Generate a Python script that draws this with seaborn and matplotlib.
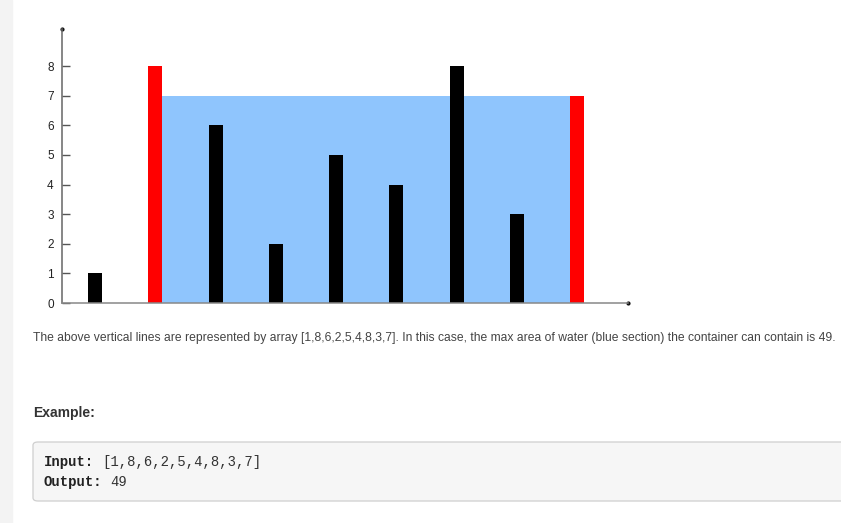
import matplotlib.pyplot as plt
import seaborn as sns
import pandas as pd
from matplotlib.patches import Rectangle, FancyBboxPatch

# data: heights of the vertical lines
heights = [1, 8, 6, 2, 5, 4, 8, 3, 7]
y_ticks = [0, 1, 2, 3, 4, 5, 6, 7, 8]
caption = ("The above vertical lines are represented by array [1,8,6,2,5,4,8,3,7]. "
           "In this case, the max area of water (blue section) the container can contain is 49.")
example_input = "[1,8,6,2,5,4,8,3,7]"
example_output = "49"

# find the container holding the most water
best = (0, 0, 0)
for i in range(len(heights)):
    for j in range(i + 1, len(heights)):
        area = (j - i) * min(heights[i], heights[j])
        if area > best[0]:
            best = (area, i, j)
area, left, right = best
level = min(heights[left], heights[right])

kinds = ['wall' if k in (left, right) else 'line' for k in range(len(heights))]
df = pd.DataFrame({'pos': range(len(heights)), 'height': heights, 'kind': kinds})

sns.set_style('white')
plt.rcParams['font.family'] = ['Liberation Sans', 'DejaVu Sans']

W, H = 841, 523
fig = plt.figure(figsize=(W / 100, H / 100), dpi=100)

# grey strip on the left of the page
fig.patches.append(Rectangle((0, 0), 12 / W, 1, transform=fig.transFigure,
                             color='#f3f3f3', zorder=0))

ax = fig.add_axes([62 / W, 1 - 303 / H, (628 - 62) / W, (303 - 29) / H])
ax.set_facecolor('none')

bar_w = 0.232
sns.barplot(data=df, x='pos', y='height', hue='kind',
            palette={'line': '#000000', 'wall': '#ff0000'}, saturation=1,
            width=bar_w, dodge=False, legend=False, linewidth=0,
            ax=ax, zorder=3)

# water between the two walls
ax.fill_between([left + bar_w / 2, right - bar_w / 2], 0, level,
                color='#8fc5fd', lw=0, zorder=1)

ax.set_xlim(-0.548, 8.846)
ax.set_ylim(0, 9.25)
ax.set_xticks([])
ax.set_yticks(y_ticks)
ax.set_xlabel('')
ax.set_ylabel('')
ax.tick_params(axis='y', direction='in', length=6, width=1, color='#555555',
               pad=6, labelsize=8.5, labelcolor='#222222', left=True)
for s in ['top', 'right']:
    ax.spines[s].set_visible(False)
ax.spines['left'].set_color('#666666')
ax.spines['bottom'].set_color('#888888')
ax.spines['left'].set_linewidth(1.1)
ax.spines['bottom'].set_linewidth(1.1)
ax.spines['left'].set_zorder(4)
ax.spines['bottom'].set_zorder(4)

# little dots at the axis ends
ax.plot([0], [1], marker='o', ms=2, color='#111111', transform=ax.transAxes, clip_on=False)
ax.plot([1], [0], marker='o', ms=2, color='#111111', transform=ax.transAxes, clip_on=False)

fig.text(33 / W, 1 - 338 / H, caption, fontsize=8.7, color='#444444', va='center')
fig.text(33 / W, 1 - 413 / H, 'Example:', fontsize=10, fontweight='bold',
         color='#333333', va='center')

# code box
box = FancyBboxPatch((33 / W, 1 - 501 / H), 830 / W, 59 / H,
                     boxstyle='round,pad=0,rounding_size=0.006',
                     transform=fig.transFigure, facecolor='#f6f6f6',
                     edgecolor='#cfcfcf', lw=0.9, zorder=1)
fig.patches.append(box)

mono = ['Liberation Mono', 'DejaVu Sans Mono']
fig.text(44 / W, 1 - 462 / H, 'Input:', family=mono, fontsize=10,
         fontweight='bold', color='#222222', va='center')
fig.text(44 / W + 7 * 8.3 / W, 1 - 462 / H, example_input, family=mono,
         fontsize=10, color='#333333', va='center')
fig.text(44 / W, 1 - 482 / H, 'Output:', family=mono, fontsize=10,
         fontweight='bold', color='#222222', va='center')
fig.text(44 / W + 8 * 8.3 / W, 1 - 482 / H, example_output, family=mono,
         fontsize=10, color='#333333', va='center')

fig.savefig('out.png', dpi=100)
